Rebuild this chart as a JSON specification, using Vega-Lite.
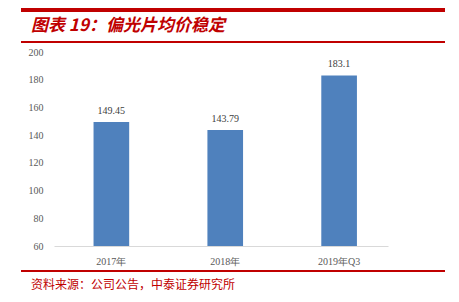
{
  "$schema": "https://vega.github.io/schema/vega-lite/v6.json",
  "padding": {"left": 18, "top": 8, "right": 13, "bottom": 5},
  "background": "white",
  "spacing": 4,
  "config": {"view": {"stroke": null}},
  "vconcat": [
    {
      "width": 391,
      "height": 32,
      "data": {"values": [{"t": "图表 19：偏光片均价稳定"}]},
      "layer": [
        {
          "mark": {"type": "rule", "color": "#C00000", "strokeWidth": 4},
          "encoding": {
            "x": {"datum": -0.0844, "type": "quantitative", "scale": {"domain": [0, 1], "nice": false, "zero": false}, "axis": null},
            "x2": {"datum": 1},
            "y": {"datum": 1, "type": "quantitative", "scale": {"domain": [0, 1]}, "axis": null}
          }
        },
        {
          "mark": {"type": "rule", "color": "#C00000", "strokeWidth": 2},
          "encoding": {
            "x": {"datum": -0.0844, "type": "quantitative", "axis": null},
            "x2": {"datum": 1},
            "y": {"datum": 0, "type": "quantitative", "axis": null}
          }
        },
        {
          "mark": {"type": "text", "align": "left", "baseline": "middle", "color": "#C00000", "font": "Noto Sans CJK SC", "fontSize": 17, "fontStyle": "italic", "fontWeight": "bold", "dx": 10},
          "encoding": {
            "text": {"field": "t"},
            "x": {"datum": -0.0844, "type": "quantitative", "axis": null},
            "y": {"datum": 0.5, "type": "quantitative", "axis": null}
          }
        }
      ]
    },
    {
      "width": 334,
      "height": 194,
      "data": {"values": [
        {"period": "2017年", "price": 149.45},
        {"period": "2018年", "price": 143.79},
        {"period": "2019年Q3", "price": 183.1}
      ]},
      "encoding": {
        "x": {
          "field": "period", "type": "nominal", "sort": null,
          "scale": {"paddingInner": 0.687, "paddingOuter": 0.31, "align": 0.56},
          "axis": {"title": null, "labelAngle": 0, "ticks": false, "domainColor": "#D9D9D9", "domainWidth": 1, "labelColor": "#595959", "labelFont": "Liberation Serif", "labelFontSize": 10, "labelPadding": 10}
        },
        "y": {
          "field": "price", "type": "quantitative",
          "scale": {"domain": [60, 200]},
          "axis": {"title": null, "values": [60, 80, 100, 120, 140, 160, 180, 200], "grid": false, "domain": false, "ticks": false, "labelColor": "#595959", "labelFont": "Liberation Serif", "labelFontSize": 10, "labelPadding": 11, "minExtent": 33}
        }
      },
      "layer": [
        {"mark": {"type": "bar", "color": "#4F81BD"}, "encoding": {"y2": {"datum": 60}}},
        {
          "mark": {"type": "text", "baseline": "middle", "dy": -11, "color": "#404040", "font": "Liberation Serif", "fontSize": 10},
          "encoding": {"text": {"field": "price", "type": "nominal"}}
        }
      ]
    },
    {
      "width": 391,
      "height": 22,
      "data": {"values": [{"t": "资料来源：公司公告，中泰证券研究所"}]},
      "layer": [
        {
          "mark": {"type": "rule", "color": "#C00000", "strokeWidth": 2},
          "encoding": {
            "x": {"datum": -0.0844, "type": "quantitative", "scale": {"domain": [0, 1], "nice": false, "zero": false}, "axis": null},
            "x2": {"datum": 1},
            "y": {"datum": 1, "type": "quantitative", "scale": {"domain": [0, 1]}, "axis": null}
          }
        },
        {
          "mark": {"type": "text", "align": "left", "baseline": "middle", "color": "#C00000", "font": "Noto Sans CJK SC", "fontSize": 12, "dx": 10},
          "encoding": {
            "text": {"field": "t"},
            "x": {"datum": -0.0844, "type": "quantitative", "axis": null},
            "y": {"datum": 0.36, "type": "quantitative", "axis": null}
          }
        }
      ]
    }
  ]
}
